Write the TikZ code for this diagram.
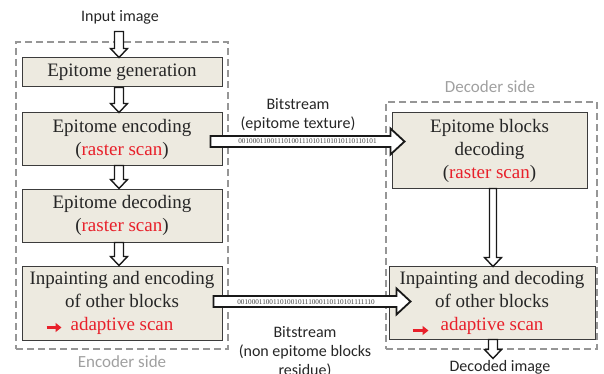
\documentclass[tikz,border=0pt]{standalone}
\usepackage{fontspec}
\setmainfont{Liberation Serif}
\newfontfamily\carl{Carlito}
\newfontfamily\tms{Liberation Serif}
\usetikzlibrary{calc,arrows.meta}
\definecolor{boxfill}{HTML}{EDEAE0}
\definecolor{boxline}{HTML}{3C3C3C}
\definecolor{framegray}{HTML}{969696}
\definecolor{scanred}{HTML}{E8202A}
\newcommand\hollowV[5]{\draw[hollow] let \p1=(#1), \p2=(#2) in
 (\x1-#3pt,\y1) -- (\x1-#3pt,\y2+#5pt) -- (\x1-#4pt,\y2+#5pt) -- (\x1,\y2) -- (\x1+#4pt,\y2+#5pt) -- (\x1+#3pt,\y2+#5pt) -- (\x1+#3pt,\y1) -- cycle;}
\newcommand\hollowH[2]{\draw[hollow, line width=1.8pt] let \p1=(#1), \p2=(#2) in
 (\x1,\y1+5.5pt) -- (\x2-14pt,\y1+5.5pt) -- (\x2-14pt,\y1+13pt) -- (\x2,\y1) -- (\x2-14pt,\y1-13pt) -- (\x2-14pt,\y1-5.5pt) -- (\x1,\y1-5.5pt) -- cycle;}
\tikzset{
  stagebox/.style={draw=boxline, fill=boxfill, line width=1pt, inner sep=0pt,
    align=center, font=\tms\fontsize{19}{23}\selectfont, text=black!85},
  dashbox/.style={draw=framegray, line width=1.5pt, dash pattern=on 7pt off 4pt, inner sep=0pt},
  hollow/.style={draw=black!90, fill=white, line width=1.4pt, line join=miter},
  lbl/.style={font=\carl\fontsize{16}{19}\selectfont, align=center, text=black!85},
  sidelabel/.style={font=\carl\fontsize{17}{20}\selectfont, text=framegray!90},
  bits/.style={font=\tms\fontsize{7.2}{8}\selectfont, text=black!75, inner sep=0pt},
  redarrow/.style={draw=scanred, line width=3.5pt, -{Triangle[length=6pt,width=9pt]}},
}
\newcommand\rs[1]{\textcolor{scanred}{#1}}
\begin{document}
\begin{tikzpicture}[x=1pt,y=-1pt]
\useasboundingbox (0,0) rectangle (604,374);
% frames
\node[dashbox, minimum width=212pt, minimum height=307pt] (encframe) at (122,195.5) {};
\node[dashbox, minimum width=211pt, minimum height=247pt] (decframe) at (491.5,225.5) {};
\node[sidelabel] (enclabel) at (122,362) {Encoder side};
\node[sidelabel] (declabel) at (490,87) {Decoder side};
% encoder boxes
\node[stagebox, minimum width=200pt, minimum height=29pt] (enc1) at (122,72.5) {Epitome generation};
\node[stagebox, minimum width=200pt, minimum height=52pt] (enc2) at (122,139) {Epitome encoding\\(\rs{raster scan})};
\node[stagebox, minimum width=200pt, minimum height=53pt] (enc3) at (122,215.5) {Epitome decoding\\(\rs{raster scan})};
\node[stagebox, minimum width=200pt, minimum height=74pt] (enc4) at (122,303) {Inpainting and encoding\\of other blocks\\\rs{adaptive scan}};
% decoder boxes
\node[stagebox, minimum width=195pt, minimum height=75pt] (dec1) at (489.5,150.5) {Epitome blocks\\decoding\\(\rs{raster scan})};
\node[stagebox, minimum width=206pt, minimum height=73pt] (dec2) at (492,302.5) {Inpainting and decoding\\of other blocks\\\rs{adaptive scan}};
% labels
\node[lbl] (input) at (120,17) {Input image};
\node[lbl] (output) at (500,367) {Decoded image};
\node[lbl] (bs1) at (298,114.5) {Bitstream\\(epitome texture)};
\node[lbl] (bs2) at (305,352) {Bitstream\\(non epitome blocks\\residue)};
% red scan arrows
\draw[redarrow] ($(enc4.south west)+(25,-13)$) -- ++(15,0);
\draw[redarrow] ($(dec2.south west)+(24,-9)$) -- ++(16,0);
% encoder vertical arrows
\coordinate (v0s) at ($(enc1.north)+(-3,-26)$);
\coordinate (v0e) at ($(enc1.north)+(-3,0)$);
\hollowV{v0s}{v0e}{4.5}{8.5}{9}
\hollowV{$(enc1.south)+(-3,0)$}{$(enc2.north)+(-3,0)$}{4.5}{8.5}{9}
\hollowV{$(enc2.south)+(-3,0)$}{$(enc3.north)+(-3,0)$}{4.5}{8.5}{9}
\hollowV{$(enc3.south)+(-3,0)$}{$(enc4.north)+(-3,0)$}{4.5}{8.5}{9}
% decoder vertical arrows
\hollowV{$(dec1.south)+(3.5,0)$}{$(dec2.north)+(1,1)$}{3.5}{8.5}{9}
\coordinate (v5e) at ($(dec2.south)+(1,19)$);
\hollowV{$(dec2.south)+(1,0)$}{v5e}{4.5}{8.5}{9}
% bitstream arrows
\coordinate (a1s) at ($(enc2.east)+(-12,2.5)$);
\coordinate (a1e) at ($(dec1.west)+(13,-9)$);
\hollowH{a1s}{a1e}
\node[bits] (bits1) at ($(a1s)!0.5!(a1e)$) {001000110011101001110101101010110110101};
\coordinate (a2s) at ($(enc4.east)+(-9,-1.5)$);
\coordinate (a2e) at ($(dec2.west)+(22,-0.5)$);
\hollowH{a2s}{a2e}
\node[bits] (bits2) at ($(a2s)!0.47!(a2e)$) {001000110011010010111000110110101111110};
\end{tikzpicture}
\end{document}
